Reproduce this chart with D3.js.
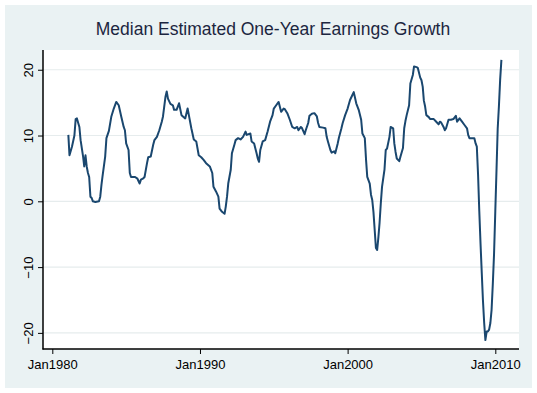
<!DOCTYPE html>
<html><head><meta charset="utf-8">
<script src="https://cdn.jsdelivr.net/npm/d3@7"></script>
<style>html,body{margin:0;padding:0;background:#fff;}svg{display:block;}</style>
</head><body>
<script>
const title = "Median Estimated One-Year Earnings Growth";
const months = ["1981-02","1981-03","1981-05","1981-07","1981-08","1981-09","1981-11","1981-12",
"1982-02","1982-03","1982-04","1982-05","1982-06","1982-07","1982-08","1982-09","1982-10","1982-12",
"1983-03","1983-04","1983-05","1983-06","1983-08","1983-09","1983-11",
"1984-01","1984-03","1984-05","1984-07","1984-09","1984-11","1984-12",
"1985-01","1985-03","1985-04","1985-05","1985-08","1985-10","1985-12",
"1986-01","1986-03","1986-04","1986-06","1986-07","1986-09","1986-11","1986-12",
"1987-02","1987-04","1987-06","1987-07","1987-09","1987-10","1987-11",
"1988-01","1988-03","1988-04","1988-06","1988-08","1988-10",
"1989-01","1989-03","1989-04","1989-06","1989-08","1989-10","1989-12",
"1990-02","1990-04","1990-06","1990-09","1990-11","1990-12",
"1991-02","1991-04","1991-05","1991-07","1991-09","1991-10","1991-11","1991-12",
"1992-02","1992-03","1992-05","1992-06","1992-08","1992-10","1992-12",
"1993-02","1993-03","1993-06","1993-07","1993-09","1993-11","1993-12",
"1994-01","1994-02","1994-04","1994-06","1994-08","1994-10","1994-12",
"1995-01","1995-03","1995-05","1995-07","1995-09","1995-10","1995-12",
"1996-02","1996-04","1996-06","1996-08","1996-09","1996-11","1996-12",
"1997-02","1997-03","1997-05","1997-06","1997-08","1997-10","1997-12",
"1998-01","1998-02","1998-05","1998-07","1998-08","1998-09","1998-11","1998-12",
"1999-02","1999-03","1999-05","1999-06","1999-08","1999-09","1999-11",
"2000-01","2000-03","2000-05","2000-06","2000-08","2000-10","2000-12",
"2001-01","2001-03","2001-04","2001-05","2001-07","2001-08","2001-09","2001-10","2001-11","2001-12",
"2002-01","2002-02","2002-03","2002-04","2002-05","2002-07","2002-08","2002-09","2002-11","2002-12",
"2003-02","2003-03","2003-04","2003-05","2003-07","2003-08","2003-10","2003-11","2003-12",
"2004-01","2004-03","2004-04","2004-06","2004-07","2004-09","2004-10","2004-12",
"2005-01","2005-02","2005-03","2005-04","2005-05","2005-07","2005-08","2005-11",
"2006-01","2006-03","2006-04","2006-05","2006-07","2006-08","2006-09","2006-11",
"2007-01","2007-03","2007-05","2007-06","2007-08","2007-10","2007-12",
"2008-02","2008-03","2008-04","2008-06","2008-08","2008-09","2008-10","2008-11","2008-12",
"2009-01","2009-02","2009-03","2009-04","2009-05","2009-06","2009-07","2009-08","2009-09","2009-10","2009-11","2009-12",
"2010-01","2010-02","2010-03","2010-04","2010-05","2010-06"];
const growth = [10.1,7.0,8.3,10.0,12.5,12.6,11.3,9.3,
6.8,5.3,7.0,5.3,4.3,3.7,0.7,0.5,0.0,-0.1,
0.0,0.7,2.5,4.0,6.8,9.6,10.7,
12.9,14.1,15.1,14.6,12.9,11.3,10.8,
8.8,7.8,4.3,3.7,3.7,3.5,2.7,
3.3,3.5,3.7,5.8,6.7,6.8,8.6,9.3,
9.8,10.8,12.1,12.9,15.9,16.7,15.6,
14.8,14.6,13.9,13.9,14.9,13.1,
12.6,14.1,13.1,11.1,9.4,9.1,7.0,
6.7,6.3,5.8,5.3,4.3,2.2,
1.5,0.7,-1.1,-1.6,-1.9,-0.8,0.7,2.7,
4.8,7.3,8.6,9.3,9.6,9.4,9.8,
10.6,10.1,10.3,9.1,8.8,7.3,6.5,
6.0,7.8,9.1,9.3,10.6,12.1,13.1,
14.1,14.6,15.1,13.6,14.1,14.0,13.4,
12.4,11.3,11.1,11.3,10.8,11.3,11.1,
10.2,10.8,11.9,13.0,13.3,13.4,12.9,
11.9,11.3,11.2,11.1,9.8,9.1,7.8,7.4,
7.6,7.3,8.8,9.7,11.1,11.9,13.1,
14.1,15.4,16.2,16.6,14.9,13.9,12.4,
10.3,9.6,6.3,3.7,2.7,1.0,0.2,-1.6,-4.4,-7.1,
-7.4,-5.4,-3.3,-0.3,2.2,4.8,7.8,8.0,9.8,11.3,
11.1,8.8,7.5,6.5,6.1,6.8,8.1,11.1,12.2,
13.1,14.6,17.9,19.2,20.5,20.4,20.3,18.8,
18.4,17.4,15.3,14.4,13.1,12.8,12.5,12.5,
12.1,11.7,12.1,12.0,11.3,10.8,11.1,12.4,
12.4,12.5,13.0,12.1,12.6,12.1,11.6,
11.1,10.1,9.6,9.6,9.6,8.8,8.3,4.0,-1.5,
-6.5,-11.0,-15.0,-18.5,-21.1,-19.8,-19.8,-19.5,-18.5,-16.5,-12.5,-8.0,
-1.5,5.0,11.0,14.5,18.5,21.5];
const yTicks = [-20,-10,0,10,20];
const xTickLabels = ["Jan1980","Jan1990","Jan2000","Jan2010"];

const W = 537, H = 393;
const parseM = d3.timeParse("%Y-%m");
const parseT = d3.timeParse("Jan%Y");
const data = months.map((m,i)=>({date: parseM(m), value: growth[i]}));

const svg = d3.select("body").append("svg").attr("width",W).attr("height",H);
svg.append("rect").attr("x",5).attr("y",5).attr("width",527).attr("height",383).attr("fill","#eaf2f3");

const L = 43, R = 519, T = 50, B = 349;
svg.append("rect").attr("x",L).attr("y",T).attr("width",R-L).attr("height",B-T).attr("fill","#fff");

const xRef = d3.scaleTime().domain([parseT("Jan1980"), parseT("Jan2010")]).range([52.3, 495.3]);
const x = d3.scaleTime().domain([xRef.invert(L), xRef.invert(R)]).range([L, R]);
const y = d3.scaleLinear().domain([-22.45, 23.0]).range([B, T]);

// gridlines
svg.append("g").selectAll("line").data(yTicks).join("line")
  .attr("x1",L).attr("x2",R).attr("y1",d=>y(d)).attr("y2",d=>y(d))
  .attr("stroke","#e6eced").attr("stroke-width",1.2);

// line
svg.append("path").datum(data)
  .attr("d", d3.line().x(d=>x(d.date)).y(d=>y(d.value)))
  .attr("fill","none").attr("stroke","#1a476f").attr("stroke-width",2).attr("stroke-linejoin","round");

// y axis
const yAxis = svg.append("g").attr("transform",`translate(${L},0)`)
  .call(d3.axisLeft(y).tickValues(yTicks).tickSize(5).tickFormat(d3.format("d")));
yAxis.select(".domain").remove();
yAxis.selectAll(".tick line").attr("stroke","#000");
yAxis.selectAll(".tick text")
  .attr("transform","translate(-10,0) rotate(-90)")
  .attr("x",0).attr("y",0).attr("dy",0)
  .attr("text-anchor","middle")
  .style("font-family","Liberation Sans, Arial, sans-serif").style("font-size","13px").attr("fill","#000");

// x axis
const xAxis = svg.append("g").attr("transform",`translate(0,${B})`)
  .call(d3.axisBottom(x).tickValues(xTickLabels.map(parseT)).tickSize(5).tickFormat(d3.timeFormat("Jan%Y")));
xAxis.select(".domain").remove();
xAxis.selectAll(".tick line").attr("stroke","#000");
xAxis.selectAll(".tick text").attr("y",20).attr("dy",0)
  .style("font-family","Liberation Sans, Arial, sans-serif").style("font-size","13px").attr("fill","#000");

// axis lines
svg.append("line").attr("x1",L).attr("x2",L).attr("y1",T).attr("y2",B+0.5).attr("stroke","#000").attr("stroke-width",1.5);
svg.append("line").attr("x1",L-0.5).attr("x2",R).attr("y1",B).attr("y2",B).attr("stroke","#000").attr("stroke-width",1.5);

// title
svg.append("text").attr("x",273).attr("y",35).attr("text-anchor","middle")
  .style("font-family","Liberation Sans, Arial, sans-serif").style("font-size","17.5px")
  .attr("fill","#1c2640").text(title);
</script>
</body></html>
